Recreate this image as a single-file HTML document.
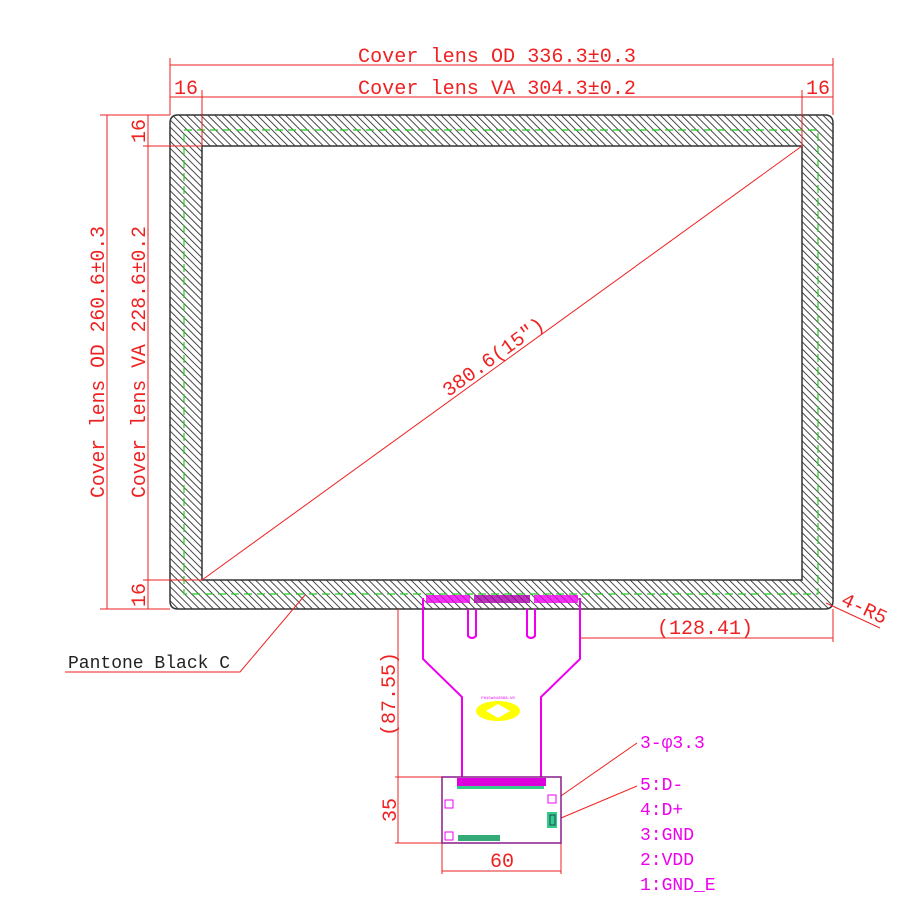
<!DOCTYPE html>
<html><head><meta charset="utf-8"><style>
html,body{margin:0;padding:0;background:#fff;}
svg{display:block;}
text{font-family:"Liberation Mono","DejaVu Sans Mono",monospace;}
</style></head><body>
<svg width="920" height="920" viewBox="0 0 920 920" xmlns="http://www.w3.org/2000/svg">
<defs>
<pattern id="h" patternUnits="userSpaceOnUse" width="5" height="5" patternTransform="rotate(-45)">
<rect width="5" height="5" fill="#fff"/>
<line x1="0" y1="0" x2="0" y2="5" stroke="#333" stroke-width="1.8"/>
</pattern>
</defs>
<path fill-rule="evenodd" fill="url(#h)" stroke="#333" stroke-width="1.5" d="M178,115 H825 Q833,115 833,123 V601 Q833,609 825,609 H178 Q170,609 170,601 V123 Q170,115 178,115 Z M202,146 V580 H802 V146 Z"/>
<rect x="184" y="130" width="634" height="464" fill="none" stroke="#22cc22" stroke-width="1.2" stroke-dasharray="8,5"/>
<line x1="202" y1="580" x2="802" y2="146" stroke="#e22" stroke-width="1"/>
<text x="0" y="0" transform="translate(497,362) rotate(-35.9)" fill="#e22" font-size="20" text-anchor="middle">380.6(15")</text>
<g stroke="#e22" stroke-width="1" fill="none">
<line x1="170" y1="58" x2="170" y2="115"/><line x1="833" y1="58" x2="833" y2="115"/>
<line x1="170" y1="65" x2="833" y2="65"/>
<line x1="202" y1="90" x2="202" y2="146"/><line x1="802" y1="90" x2="802" y2="146"/>
<line x1="170" y1="97" x2="833" y2="97"/>
<line x1="100" y1="115" x2="170" y2="115"/><line x1="100" y1="609" x2="170" y2="609"/>
<line x1="107" y1="115" x2="107" y2="609"/>
<line x1="143" y1="146" x2="202" y2="146"/><line x1="143" y1="580" x2="202" y2="580"/>
<line x1="148" y1="115" x2="148" y2="609"/>
<polyline points="305,595 240,672 65,672"/>
<line x1="580" y1="638" x2="833" y2="638"/><line x1="833" y1="609" x2="833" y2="642"/>
<line x1="826" y1="603" x2="880" y2="628"/>
<line x1="398" y1="609" x2="398" y2="843"/>
<line x1="395" y1="777" x2="442" y2="777"/><line x1="395" y1="843" x2="442" y2="843"/>
<line x1="442" y1="843" x2="442" y2="874"/><line x1="561" y1="843" x2="561" y2="874"/>
<line x1="442" y1="871" x2="561" y2="871"/>
<line x1="558" y1="798" x2="637" y2="743"/>
<line x1="561" y1="818" x2="637" y2="786"/>
</g>
<g fill="#e22" font-size="20" font-family="Liberation Mono">
<text x="497" y="62" text-anchor="middle" textLength="278" lengthAdjust="spacingAndGlyphs">Cover lens OD 336.3±0.3</text>
<text x="497" y="94" text-anchor="middle" textLength="278" lengthAdjust="spacingAndGlyphs">Cover lens VA 304.3±0.2</text>
<text x="174" y="94">16</text>
<text x="806" y="94">16</text>
<text transform="translate(104,362) rotate(-90)" text-anchor="middle" textLength="272" lengthAdjust="spacingAndGlyphs">Cover lens OD 260.6±0.3</text>
<text transform="translate(145,362) rotate(-90)" text-anchor="middle" textLength="272" lengthAdjust="spacingAndGlyphs">Cover lens VA 228.6±0.2</text>
<text transform="translate(145,131) rotate(-90)" text-anchor="middle">16</text>
<text transform="translate(145,595) rotate(-90)" text-anchor="middle">16</text>
<text x="705" y="634" text-anchor="middle">(128.41)</text>
<text transform="translate(840,604) rotate(25)">4-R5</text>
<text transform="translate(395,694) rotate(-90)" text-anchor="middle">(87.55)</text>
<text transform="translate(396,810) rotate(-90)" text-anchor="middle">35</text>
<text x="502" y="867" text-anchor="middle">60</text>
</g>
<text x="68" y="668" font-size="18" fill="#222">Pantone Black C</text>
<g stroke="#ee00ee" stroke-width="2" fill="none">
<polyline points="423,598 423,659 462,697 462,777"/>
<polyline points="580,598 580,659 541,697 541,777"/>
<path d="M468,609 V636 Q472,640 476,636 V609"/>
<path d="M527,609 V636 Q531,640 535,636 V609"/>
</g>
<rect x="426" y="595" width="44" height="8" fill="#e0e" opacity="0.8"/>
<rect x="474" y="595" width="56" height="8" fill="#a0a" opacity="0.8"/>
<rect x="534" y="595" width="44" height="8" fill="#e0e" opacity="0.8"/>
<ellipse cx="498" cy="711" rx="22" ry="10" fill="#ff0"/>
<path d="M486,711 L498,704 L510,711 L498,718 Z" fill="#fff"/>
<text x="498" y="699" font-size="4" fill="#e0e" text-anchor="middle">FH15a042088-V0</text>
<rect x="442" y="777" width="119" height="66" fill="#fff" stroke="#8a1a8a" stroke-width="1.5"/>
<rect x="457" y="778" width="89" height="8" fill="#dd00dd"/>
<rect x="457" y="786" width="87" height="3" fill="#3c8"/>
<rect x="445" y="800" width="8" height="8" fill="none" stroke="#e0e"/>
<rect x="445" y="832" width="8" height="8" fill="none" stroke="#e0e"/>
<rect x="548" y="795" width="8" height="8" fill="none" stroke="#e0e"/>
<rect x="547" y="812" width="10" height="16" fill="#3c8"/>
<rect x="550" y="815" width="5" height="10" fill="none" stroke="#246"/>
<rect x="458" y="835" width="42" height="6" fill="#3a7"/>
<g fill="#ee00ee" font-size="18">
<text x="640" y="748">3-φ3.3</text>
<text x="640" y="790">5:D-</text>
<text x="640" y="815">4:D+</text>
<text x="640" y="840">3:GND</text>
<text x="640" y="865">2:VDD</text>
<text x="640" y="890">1:GND_E</text>
</g>
</svg>
</body></html>
